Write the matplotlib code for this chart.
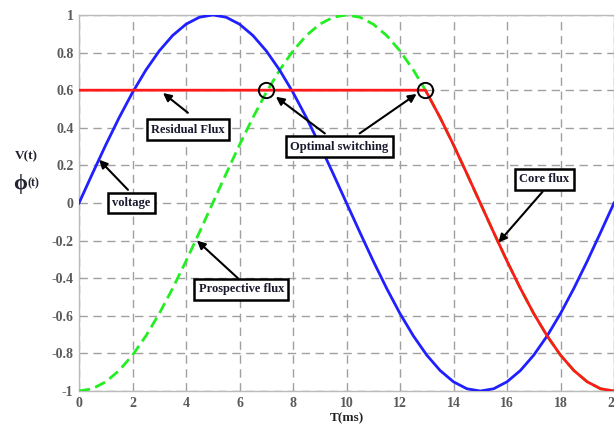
import matplotlib.pyplot as plt
import numpy as np

# time axis (ms), one sample every 0.5 ms
t = np.arange(0, 20.5, 0.5)

voltage = [0.000, 0.156, 0.309, 0.454, 0.588, 0.707, 0.809, 0.891, 0.951, 0.988,
           1.000, 0.988, 0.951, 0.891, 0.809, 0.707, 0.588, 0.454, 0.309, 0.156,
           0.000, -0.156, -0.309, -0.454, -0.588, -0.707, -0.809, -0.891, -0.951, -0.988,
           -1.000, -0.988, -0.951, -0.891, -0.809, -0.707, -0.588, -0.454, -0.309, -0.156,
           0.000]

prospective_flux = [-1.000, -0.988, -0.951, -0.891, -0.809, -0.707, -0.588, -0.454, -0.309, -0.156,
                    0.000, 0.156, 0.309, 0.454, 0.588, 0.707, 0.809, 0.891, 0.951, 0.988,
                    1.000, 0.988, 0.951, 0.891, 0.809, 0.707, 0.588, 0.454, 0.309, 0.156,
                    0.000, -0.156, -0.309, -0.454, -0.588, -0.707, -0.809, -0.891, -0.951, -0.988,
                    -1.000]

# core flux: held at the residual level until switching, then follows the prospective flux
core_t = [0.0, 12.95, 13.5, 14.0, 14.5, 15.0, 15.5, 16.0, 16.5, 17.0, 17.5, 18.0, 18.5, 19.0, 19.5, 20.0]
core_flux = [0.6, 0.6, 0.454, 0.309, 0.156, 0.000, -0.156, -0.309, -0.454, -0.588, -0.707,
             -0.809, -0.891, -0.951, -0.988, -1.000]

switch_t = [7.0, 12.95]
switch_v = [0.6, 0.6]

xticks = list(range(0, 21, 2))
yticks = [1, 0.8, 0.6, 0.4, 0.2, 0, -0.2, -0.4, -0.6, -0.8, -1]
ytick_labels = ['1', '0.8', '0.6', '0.4', '0.2', '0', '-0.2', '-0.4', '-0.6', '-0.8', '-1']

plt.rcParams['font.family'] = ['Liberation Serif', 'DejaVu Serif']

fig = plt.figure(figsize=(6.14, 4.28), dpi=100)
ax = fig.add_axes([0.1287, 0.0864, 0.8713, 0.8786])

ax.plot(t, prospective_flux, color='#22ee22', lw=2.0, dashes=(4, 2), zorder=3)
ax.plot(t, voltage, color='#1f1fff', lw=2.0, zorder=4)
ax.plot(core_t, core_flux, color='#ff1a1a', lw=2.0, zorder=5)
ax.plot(switch_t, switch_v, 'o', ms=11, mfc='none', mec='black', mew=1.4, zorder=6)

ax.set_xlim(0, 20)
ax.set_ylim(-1, 1)
ax.set_xticks(xticks)
ax.set_yticks(yticks)
ax.set_yticklabels(ytick_labels)
ax.tick_params(length=0, labelsize=10, labelcolor='#5a5a5a', pad=4)
for lab in ax.get_xticklabels() + ax.get_yticklabels():
    lab.set_fontweight('bold')
ax.grid(True, color='#a0a0a0', lw=1.0, dashes=(6, 4))
for s in ax.spines.values():
    s.set_color('#bbbbbb')
    s.set_linewidth(1.0)

ax.set_xlabel('T(ms)', fontsize=9.5, fontweight='bold', color='#222222', labelpad=2)

fig.text(15 / 614, 1 - 159 / 428, 'V(t)', fontsize=9.5, fontweight='bold', color='#222233')
fig.text(13 / 614, 1 - 189 / 428, 'ϕ', fontsize=16, fontweight='bold', color='#222233')
fig.text(27 / 614, 1 - 186 / 428, '(t)', fontsize=8.5, fontweight='bold', color='#222233')

box = dict(boxstyle='square,pad=0.35', fc='white', ec='black', lw=1.8)
arrow = dict(arrowstyle='-|>', color='black', lw=1.5, mutation_scale=12, shrinkA=0, shrinkB=0)

labels = [
    ('voltage', (1.95, 0.0), [((1.83, 0.07), (0.75, 0.23))]),
    ('Residual Flux', (4.07, 0.39), [((4.07, 0.48), (3.14, 0.585))]),
    ('Optimal switching', (9.73, 0.30), [((9.19, 0.37), (7.36, 0.565)),
                                         ((10.49, 0.37), (12.62, 0.58))]),
    ('Core flux', (17.4, 0.125), [((17.33, 0.06), (15.68, -0.21))]),
    ('Prospective flux', (6.07, -0.46), [((5.94, -0.40), (4.41, -0.20))]),
]
for text, pos, arrows in labels:
    for tail, tip in arrows:
        ax.annotate('', xy=tip, xytext=tail, arrowprops=arrow, zorder=7)
    ax.text(pos[0], pos[1], text, ha='center', va='center', fontsize=9,
            fontweight='bold', color='#1a1a2e', bbox=box, zorder=8)

fig.savefig('out.png', dpi=100)
